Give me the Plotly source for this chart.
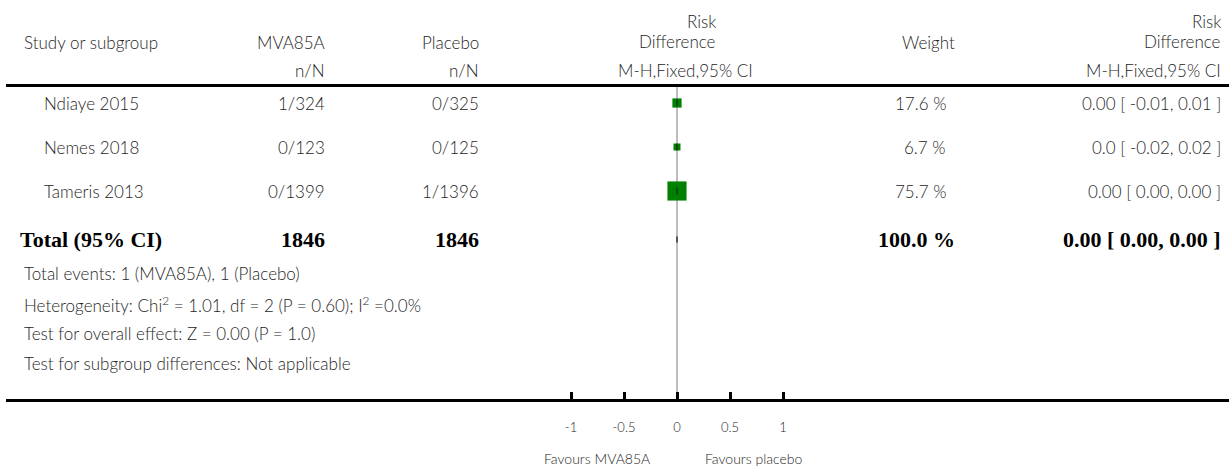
import plotly.graph_objects as go

W, H = 1229, 466

# ---- data ---------------------------------------------------------------
studies = ["Ndiaye 2015", "Nemes 2018", "Tameris 2013"]
mva_events = [1, 0, 0]
mva_total = [324, 123, 1399]
pla_events = [0, 0, 1]
pla_total = [325, 125, 1396]
weights = [17.6, 6.7, 75.7]
rd = [0.00, 0.0, 0.00]
rd_lo = [-0.01, -0.02, 0.00]
rd_hi = [0.01, 0.02, 0.00]
rd_text = ["0.00 [ -0.01, 0.01 ]", "0.0 [ -0.02, 0.02 ]", "0.00 [ 0.00, 0.00 ]"]

total_mva_n = 1846
total_pla_n = 1846
total_weight = 100.0
total_rd, total_lo, total_hi = 0.00, 0.00, 0.00
total_text = "0.00 [ 0.00, 0.00 ]"

tick_vals = [-1, -0.5, 0, 0.5, 1]
tick_text = ["-1", "-0.5", "0", "0.5", "1"]

footer_lines = [
    "Total events: 1 (MVA85A), 1 (Placebo)",
    "Heterogeneity: Chi<sup>2</sup> = 1.01, df = 2 (P = 0.60); I<sup>2</sup> =0.0%",
    "Test for overall effect: Z = 0.00 (P = 1.0)",
    "Test for subgroup differences: Not applicable",
]

# ---- layout geometry (pixels) -----------------------------------------
ZERO_PX = 677
PX_PER_UNIT = 106
LEFT_PX = 6
TOP_RULE, BOTTOM_RULE = 87, 399
ROW0_PX, ROW_STEP = 103, 44
TOTAL_ROW = 3.1

SANS = "Lato"
SERIF = "Liberation Serif"
TXT = "#262626"
FS = 17


def px(x):
    return x / W


def py(y):
    return 1 - y / H


rows = list(range(len(studies)))
x_range = [(LEFT_PX - ZERO_PX) / PX_PER_UNIT, (W - ZERO_PX) / PX_PER_UNIT]
y_range = [(BOTTOM_RULE - ROW0_PX) / ROW_STEP, (TOP_RULE - ROW0_PX) / ROW_STEP]

fig = go.Figure()

# study squares, area proportional to weight
sizes = [max(7, 2.2 * w ** 0.5) for w in weights]
fig.add_trace(go.Scatter(
    x=rd, y=rows, mode="markers",
    marker=dict(symbol="square", size=sizes, color="#008000", opacity=1,
                line=dict(width=0)),
    error_x=dict(type="data", symmetric=False,
                 array=[h - e for h, e in zip(rd_hi, rd)],
                 arrayminus=[e - l for e, l in zip(rd, rd_lo)],
                 color="black", thickness=1, width=0),
    hoverinfo="skip", showlegend=False,
))
# point estimate tick inside each square
fig.add_trace(go.Scatter(
    x=rd, y=rows, mode="markers",
    marker=dict(symbol="line-ns", size=5, line=dict(width=1, color="#1a1a1a")),
    hoverinfo="skip", showlegend=False,
))

# pooled estimate diamond
dh = 3 / ROW_STEP
fig.add_trace(go.Scatter(
    x=[total_lo, total_rd, total_hi, total_rd, total_lo],
    y=[TOTAL_ROW, TOTAL_ROW - dh, TOTAL_ROW, TOTAL_ROW + dh, TOTAL_ROW],
    mode="lines", fill="toself", fillcolor="#555555",
    line=dict(color="#555555", width=2),
    hoverinfo="skip", showlegend=False,
))

ann = []


def add(text, x, y, anchor="left", yref="paper", size=FS, family=SANS, color=TXT,
        bold=False):
    if bold:
        text = "<b>" + text + "</b>"
    font = dict(family=family, size=size, color=color)
    if not bold:
        font["weight"] = 300
    ann.append(dict(text=text, x=x, y=y, xref="paper", yref=yref,
                    xanchor=anchor, yanchor="middle", showarrow=False, font=font))


# column headers
add("Study or subgroup", px(22), py(42))
add("MVA85A", px(327), py(42), "right")
add("n/N", px(327), py(70), "right")
add("Placebo", px(481), py(42), "right")
add("n/N", px(481), py(70), "right")
add("Risk", px(718), py(22), "right")
add("Difference", px(718), py(41), "right")
add("M-H,Fixed,95% CI", px(685), py(70), "center")
add("Weight", px(957), py(42), "right")
add("Risk", px(1223), py(22), "right")
add("Difference", px(1223), py(41), "right")
add("M-H,Fixed,95% CI", px(1223), py(70), "right")

# study rows
for i, name in enumerate(studies):
    add(name, px(42), i, yref="y")
    add(f"{mva_events[i]}/{mva_total[i]}", px(327), i, "right", yref="y")
    add(f"{pla_events[i]}/{pla_total[i]}", px(481), i, "right", yref="y")
    add(f"{weights[i]:.1f} %", px(948), i, "right", yref="y")
    add(rd_text[i], px(1223), i, "right", yref="y")

# total row
BOLD = dict(yref="y", size=22, family=SERIF, color="black", bold=True)
add("Total (95% CI)", px(18), TOTAL_ROW, **BOLD)
add(str(total_mva_n), px(327), TOTAL_ROW, "right", **BOLD)
add(str(total_pla_n), px(481), TOTAL_ROW, "right", **BOLD)
add(f"{total_weight:.1f} %", px(957), TOTAL_ROW, "right", **BOLD)
add(total_text, px(1223), TOTAL_ROW, "right", **BOLD)

# footer notes
for line, yy in zip(footer_lines, [273, 304, 333, 363]):
    add(line, px(22), py(yy))

# axis captions
add("Favours MVA85A", px(652), py(458), "right", size=14)
add("Favours placebo", px(703), py(458), "left", size=14)

fig.update_layout(
    width=W, height=H,
    margin=dict(l=0, r=0, t=0, b=0),
    paper_bgcolor="white", plot_bgcolor="white",
    annotations=ann,
    xaxis=dict(
        domain=[px(LEFT_PX), 1], range=x_range,
        showgrid=False, zeroline=True, zerolinecolor="#bdbdbd", zerolinewidth=2,
        showline=True, linecolor="black", linewidth=3, mirror=True,
        ticks="inside", ticklen=7, tickwidth=3, tickcolor="black",
        tickvals=tick_vals, ticktext=tick_text,
        tickfont=dict(family=SANS, size=13, color=TXT, weight=300),
        ticklabelstandoff=14, fixedrange=True,
    ),
    yaxis=dict(
        domain=[py(BOTTOM_RULE), py(TOP_RULE)], range=y_range,
        showgrid=False, zeroline=False, showline=False, showticklabels=False,
        ticks="", fixedrange=True,
    ),
)

fig.write_html("out.html")
